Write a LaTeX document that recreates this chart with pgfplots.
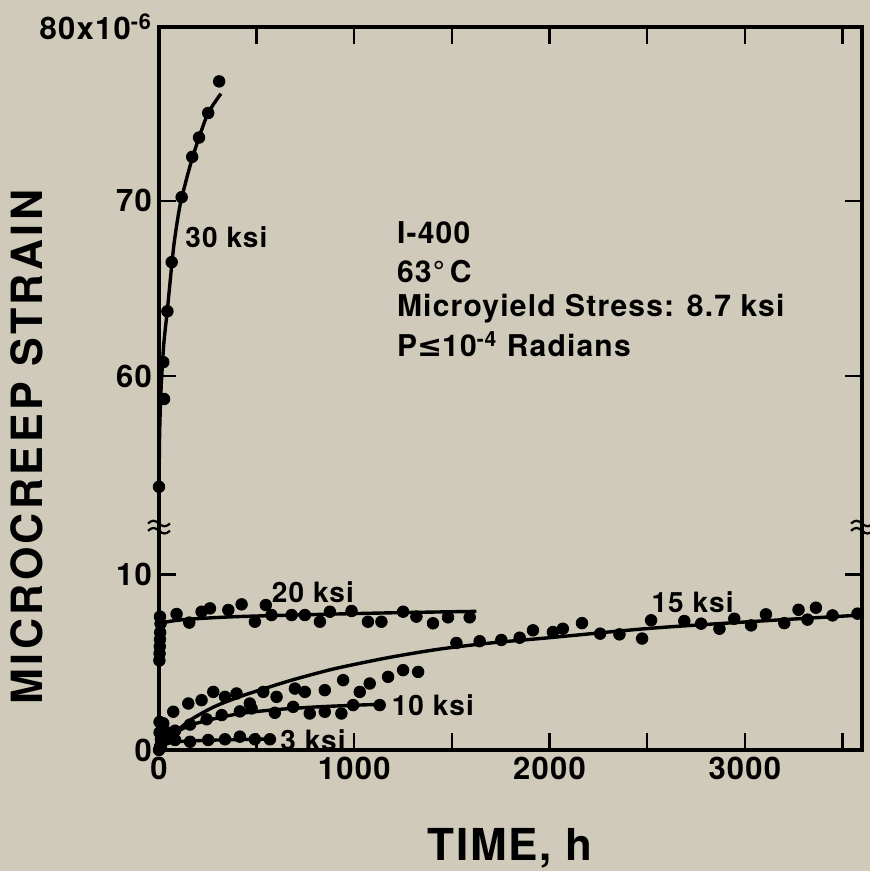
\documentclass[border=0pt]{standalone}
\usepackage{pgfplots}
\pgfplotsset{compat=1.18}
\usepackage{fontspec}
\setmainfont{TeX Gyre Heros}
\newfontfamily\spaced[LetterSpace=8]{TeX Gyre Heros}
\newfontfamily\spacedsm[LetterSpace=4]{TeX Gyre Heros}
\newfontfamily\dejavu{DejaVu Sans}
\definecolor{bgc}{RGB}{207,202,186}

\begin{document}
\begin{tikzpicture}
\path[use as bounding box, fill=bgc] (0,0) rectangle (435pt,435.5pt);
\begin{axis}[
  at={(79.5pt,60.5pt)}, anchor=south west,
  scale only axis, width=351.5pt, height=361.5pt,
  xmin=0, xmax=3600, ymin=0, ymax=41.2,
  clip=false,
  axis line style={line width=1.6pt},
  every tick/.style={black, line width=1.2pt},
  major tick length=8.5pt,
  xtick={0,500,...,3500},
  xticklabels={0,,1000,,2000,,3000,},
  ytick={0,10,21.3,31.3,41.2},
  yticklabels={0,10,60,70,{80x10\textsuperscript{-6}}},
  xtick pos=both, ytick pos=both,
  xticklabel pos=lower, yticklabel pos=left,
  tick label style={font=\fontsize{15.5}{18}\selectfont\spacedsm\bfseries},
  /pgf/number format/assume math mode=true,
  mk/.style={only marks, mark=*, mark size=2.9pt, black},
  ln/.style={black, line width=1.7pt, smooth, no marks},
]
% ---- 30 ksi (upper part, plotted with offset 38.7 for the axis break)
\addplot[ln] table[y expr=\thisrow{v}-38.7] {
t v
0 53.7
3 56.6
8 58.6
14 60.0
25 61.9
43 63.8
65 66.3
80 67.8
107 69.7
140 71.2
170 72.4
205 73.6
252 75.0
317 76.1
};
\addplot[mk] table[y expr=\thisrow{v}-38.7] {
t v
0 53.7
22 60.8
26 58.7
43 63.7
65 66.5
116 70.2
170 72.5
205 73.6
252 75.0
308 76.8
};
% ---- 20 ksi
\addplot[ln] table {
t v
0 5.0
4 6.0
10 6.8
20 7.15
40 7.3
150 7.45
400 7.6
800 7.72
1200 7.82
1625 7.9
};
\addplot[mk] table {
t v
2 5.1
3 5.5
4 5.9
5 6.3
6 6.7
8 7.2
5 7.6
90 7.75
155 7.26
218 7.88
261 8.07
355 7.98
423 8.3
491 7.31
547 8.26
576 7.69
679 7.69
747 7.69
824 7.31
875 7.88
986 7.92
1070 7.31
1139 7.31
1250 7.88
1318 7.6
1403 7.22
1480 7.56
1591 7.56
};
% ---- 15 ksi
\addplot[ln] table {
t v
0 0
40 0.5
100 1.15
159 1.7
280 2.45
414 3.04
540 3.5
670 3.95
800 4.35
926 4.7
1182 5.28
1437 5.75
1700 6.1
2000 6.4
2511 6.93
3023 7.31
3596 7.69
};
\addplot[mk] table {
t v
3 1.6
22 1.52
73 2.18
150 2.65
218 2.84
278 3.31
338 3.03
397 3.22
465 2.65
534 3.31
602 3.03
696 3.5
747 3.31
849 3.41
943 3.98
1028 3.31
1079 3.79
1173 4.17
1250 4.55
1327 4.45
1523 6.1
1642 6.2
1753 6.27
1847 6.4
1915 6.82
2017 6.72
2068 6.91
2166 7.23
2259 6.63
2358 6.59
2474 6.35
2520 7.39
2690 7.35
2776 7.2
2870 6.91
2946 7.48
3032 7.1
3108 7.73
3202 7.23
3275 7.99
3321 7.43
3364 8.11
3449 7.67
3577 7.77
};
% ---- 10 ksi
\addplot[ln] table {
t v
0 0
30 0.6
100 1.1
200 1.55
400 2.05
600 2.3
800 2.45
1000 2.55
1130 2.6
};
\addplot[mk] table {
t v
3 1.0
10 0.6
40 1.0
82 1.1
159 1.45
244 1.75
321 1.99
414 2.2
474 2.37
593 2.12
687 2.46
772 2.08
849 2.18
934 2.08
994 2.56
1130 2.56
};
% ---- 3 ksi
\addplot[ln] table {
t v
0 0
40 0.35
100 0.48
300 0.57
590 0.63
};
\addplot[mk] table {
t v
0 0
10 0.15
5 0.19
82 0.57
159 0.47
252 0.57
338 0.61
414 0.76
491 0.61
568 0.61
};
% ---- curve labels
\begin{scope}[every node/.style={font=\fontsize{14}{16}\selectfont\spacedsm\bfseries, inner sep=0pt, anchor=west}]
\node at (axis cs:133,29.2) {30 ksi};
\node at (axis cs:576,9.0) {20 ksi};
\node at (axis cs:2520,8.4) {15 ksi};
\node at (axis cs:1190,2.56) {10 ksi};
\node at (axis cs:619,0.57) {3 ksi};
\end{scope}
\begin{scope}[every node/.style={font=\fontsize{15}{17}\selectfont\spacedsm\bfseries, inner sep=0pt, anchor=west}]
\node at (axis cs:1217,29.46) {I-400};
\node at (axis cs:1217,27.29) {63°\,C};
\node at (axis cs:1217,25.13) {Microyield Stress: 8.7 ksi};
\node at (axis cs:1217,23.13) {P{\dejavu\bfseries ≤}10\textsuperscript{-4} Radians};
\end{scope}
% axis break marks (drawn, not text)
\coordinate (bl) at (axis cs:0,12.7);
\coordinate (br) at (axis cs:3600,12.7);
\end{axis}
\foreach \c in {bl,br}{
  \foreach \dy in {1.8pt,-1.8pt}{
    \draw[line width=1.1pt] ([xshift=-5.5pt,yshift=\dy]\c) sin ++(2.75pt,1.4pt) cos ++(2.75pt,-1.4pt) sin ++(2.75pt,-1.4pt) cos ++(2.75pt,1.4pt);
  }
}
\node[rotate=90, font=\fontsize{21.5}{24}\selectfont\spaced\bfseries] at (13.5pt,212pt) {MICROCREEP STRAIN};
\node[font=\fontsize{22}{24}\selectfont\spacedsm\bfseries] at (255pt,11.5pt) {TIME, h};
\end{tikzpicture}
\end{document}
